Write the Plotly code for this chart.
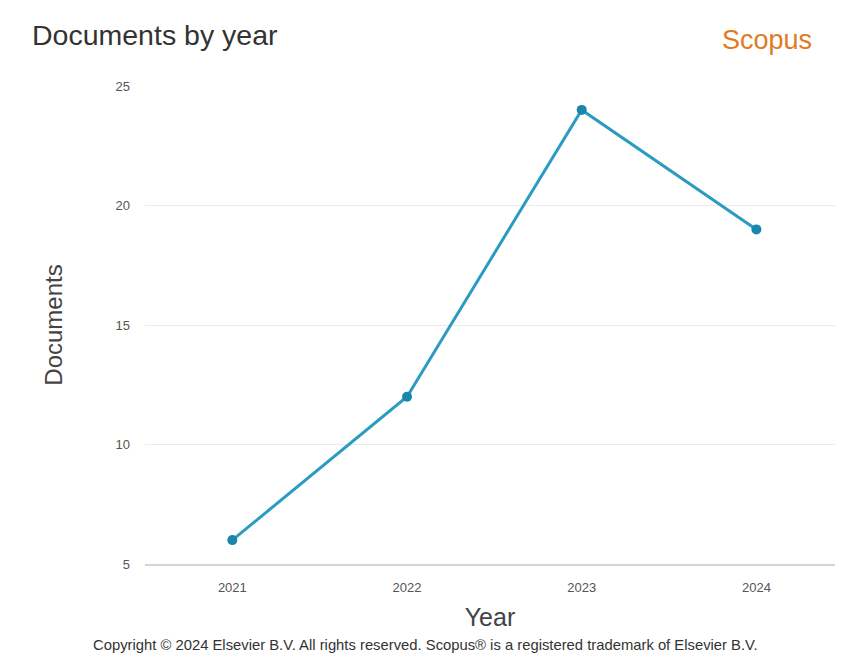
import plotly.graph_objects as go

years = [2021, 2022, 2023, 2024]
documents = [6, 12, 24, 19]
y_ticks = [5, 10, 15, 20, 25]

fig = go.Figure()
fig.add_trace(go.Scatter(
    x=years, y=documents, mode="lines+markers",
    line=dict(color="#2b9cc0", width=3),
    marker=dict(color="#1a86ab", size=10),
    hoverinfo="x+y", showlegend=False,
))

fig.update_layout(
    width=852, height=661,
    margin=dict(l=137, r=25, t=78, b=105),
    paper_bgcolor="white", plot_bgcolor="white",
    font=dict(family="Liberation Sans, Arial, sans-serif", color="#444"),
    xaxis=dict(
        range=[2020.5, 2024.45], tickmode="array", tickvals=years,
        ticktext=[str(y) for y in years],
        showgrid=False, showline=True, linecolor="#d4d4d4", linewidth=1.5,
        zeroline=False, ticks="", tickfont=dict(size=13, color="#555"),
        ticklabelstandoff=11,
        title=dict(text="Year", font=dict(size=25, color="#444"), standoff=14),
    ),
    yaxis=dict(
        range=[5, 25], tickmode="array", tickvals=y_ticks,
        showgrid=True, gridcolor="#ebebeb", gridwidth=1, zeroline=False,
        showline=False, ticks="", tickfont=dict(size=13, color="#555"),
        ticklabelstandoff=14,
        title=dict(text="Documents", font=dict(size=24, color="#444"), standoff=46),
    ),
    annotations=[
        dict(text="Documents by year", xref="paper", yref="paper", x=0, y=1,
             xshift=-115, yshift=51, xanchor="left", yanchor="middle",
             showarrow=False, font=dict(size=28.5, color="#333")),
        dict(text="Scopus", xref="paper", yref="paper", x=1, y=1,
             xshift=-21, yshift=46, xanchor="right", yanchor="middle",
             showarrow=False, font=dict(size=27, color="#e07b24")),
        dict(text="Copyright © 2024 Elsevier B.V. All rights reserved. Scopus® is a registered trademark of Elsevier B.V.",
             xref="paper", yref="paper", x=0, y=0, xshift=-54, yshift=-81,
             xanchor="left", yanchor="middle", showarrow=False,
             font=dict(size=14.8, color="#333")),
    ],
)

fig.write_html("out.html")
